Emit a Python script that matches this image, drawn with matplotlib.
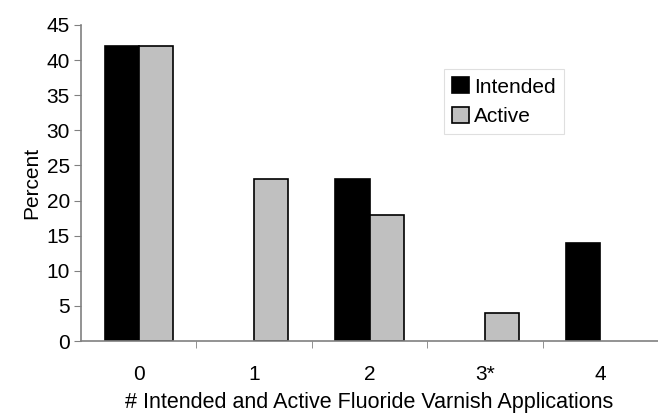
import matplotlib
matplotlib.use("Agg")
import matplotlib.pyplot as plt
import numpy as np

plt.rcParams['font.family'] = ['Liberation Sans', 'DejaVu Sans']

categories = ["0", "1", "2", "3*", "4"]
intended = [42, 0, 23, 0, 14]
active = [42, 23, 18, 4, 0]
yticks = [0, 5, 10, 15, 20, 25, 30, 35, 40, 45]

fig = plt.figure(figsize=(6.58, 4.19), dpi=100)
ax = fig.add_axes([81/658, 1 - 341/419, 1 - 81/658, (341 - 25)/419])

x = np.arange(len(categories))
w = 0.295
iv = np.array(intended, dtype=float)
av = np.array(active, dtype=float)
mi = iv > 0
ma = av > 0
ax.bar(x[mi] - w/2, iv[mi], w, color='black', edgecolor='black', linewidth=1.2, label='Intended')
ax.bar(x[ma] + w/2, av[ma], w, color='#c0c0c0', edgecolor='black', linewidth=1.2, label='Active')

ax.set_xlim(-0.5, 4.42)
ax.set_ylim(0, 45)
ax.set_yticks(yticks)
ax.set_xticks(x)
ax.set_xticklabels(categories, fontsize=15)
ax.tick_params(axis='x', length=0, pad=17)
ax.set_xticks(np.arange(len(categories)) + 0.5, minor=True)
ax.tick_params(axis='x', which='minor', length=5, color='#808080', direction='out')
ax.tick_params(axis='y', labelsize=15, length=5, color='#808080', pad=3)
for s in ['top', 'right']:
    ax.spines[s].set_visible(False)
for s in ['left', 'bottom']:
    ax.spines[s].set_color('#808080')
    ax.spines[s].set_linewidth(1.2)

ax.set_ylabel('Percent', fontsize=15, labelpad=4)
ax.set_xlabel('# Intended and Active Fluoride Varnish Applications', fontsize=15.5, labelpad=6)

leg = ax.legend(loc='upper left', bbox_to_anchor=((444 - 81) / (658 - 81), 1 - (69 - 25) / 316),
                fontsize=15, frameon=True, fancybox=False, edgecolor='#d8d8d8',
                handlelength=0.8, handleheight=0.8, handletextpad=0.25, borderpad=0.4, labelspacing=0.5,
                borderaxespad=0)
leg.get_frame().set_linewidth(0.8)

fig.savefig('out.png', dpi=100)
